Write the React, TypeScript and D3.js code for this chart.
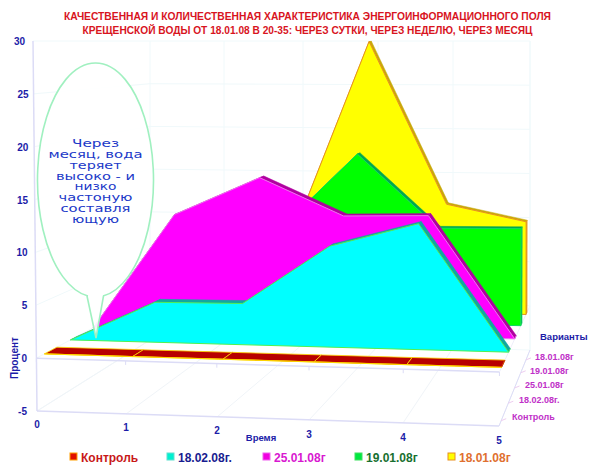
import React from "react";
import * as d3 from "d3";

const W = 600;
const H = 471;

const titleLines = [
  "КАЧЕСТВЕННАЯ И КОЛИЧЕСТВЕННАЯ ХАРАКТЕРИСТИКА ЭНЕРГОИНФОРМАЦИОННОГО ПОЛЯ",
  "КРЕЩЕНСКОЙ ВОДЫ ОТ 18.01.08 В 20-35: ЧЕРЕЗ СУТКИ, ЧЕРЕЗ НЕДЕЛЮ, ЧЕРЕЗ МЕСЯЦ",
];
const noteLines = ["Через", "месяц, вода", "теряет", "высоко - и", "низко", "частоную", "составля", "ющую"];
const noteWidths = [47, 94, 52, 79, 42, 74, 70, 47];

const timeTicks = [0, 1, 2, 3, 4, 5];
const percentTicks = [-5, 0, 5, 10, 15, 20, 25, 30];

// series, back to front
const names = ["18.01.08г", "19.01.08г", "25.01.08г", "18.02.08г.", "Контроль"];
const yellowVals = [0, 4, 8, 30, 12, 10.2];
const greenVals = [0, 5, 9.5, 18, 10.2, 10.3];
const magentaVals = [0, 12, 16, 12.2, 12.4, 0];
const cyanVals = [0, 4, 4.1, 10, 12.4, 0];
const controlVals = [0, 0, 0, 0, 0, 0];
const seriesVals = [yellowVals, greenVals, magentaVals, cyanVals, controlVals];
const depths = [0.87, 0.7, 0.5, 0.3, 0.07];
const ribbon = [0.035, 0.04, 0.05, 0.055, 0.11];
const faceColors = ["#ffff00", "#00ff00", "#ff00ff", "#00ffff", "#b80000"];
const edgeColors = ["#e89020", "#10d860", "#f070f0", "#50f050", "#ffd800"];
const sideColors = ["#c8a808", "#00a850", "#b000a0", "#10a8a0", "#b80000"];

const legendNames = ["Контроль", "18.02.08г.", "25.01.08г", "19.01.08г", "18.01.08г"];
const legendBoxes = ["#e01000", "#00f0d0", "#f000e0", "#00e840", "#ffff00"];
const legendBorders = ["#ffa000", "#60e0d0", "#f060f0", "#40e060", "#e89020"];
const legendText = ["#c81818", "#181c90", "#d818d0", "#187030", "#e07030"];
const legendX = [70, 167, 263, 355, 448];

// calibration of the 3D box: front and back faces of the chart
const frontX = d3.scaleLinear().domain(timeTicks).range([37, 126, 217, 309, 403, 499]);
const backX = d3.scaleLinear().domain(timeTicks).range([150, 224, 303, 378, 453, 530]);
const frontLow = d3.scaleLinear().domain([0, 5]).range([411, 426]);
const frontHigh = d3.scaleLinear().domain([0, 5]).range([41, 48]);
const backLow = d3.scaleLinear().domain([0, 5]).range([340, 350]);
const backHigh = d3.scaleLinear().domain([0, 5]).range([41, 41]);
const vScale = d3.scaleLinear().domain([-5, 30]).range([0, 1]);

type Pt = [number, number];
const project = (t: number, v: number, z: number): Pt => {
  const k = vScale(v);
  const fy = frontLow(t) + (frontHigh(t) - frontLow(t)) * k;
  const by = backLow(t) + (backHigh(t) - backLow(t)) * k;
  // the verticals lean slightly on the front face
  const fx = frontX(t) - 4 * k * (1 - t / 5) + 3 * k * (t / 5);
  return [fx + (backX(t) - fx) * z, fy + (by - fy) * z];
};

const poly = d3.line<Pt>().x((d) => d[0]).y((d) => d[1]);
const closed = (pts: Pt[]) => poly(pts) + "Z";

const Seg = ({ a, b, color = "#e4e4f8", w = 1 }: { a: Pt; b: Pt; color?: string; w?: number }) => (
  <line x1={a[0]} y1={a[1]} x2={b[0]} y2={b[1]} stroke={color} strokeWidth={w} />
);

const Series = ({ i }: { i: number }) => {
  const vals = seriesVals[i];
  const z0 = depths[i];
  const z1 = z0 + ribbon[i];
  const tops = vals.map((v, t) => project(t, v, z0));
  const face: Pt[] = [project(0, 0, z0), ...tops, project(5, 0, z0)];
  // the control series lies flat, so its ribbon carries the outline
  const flat = i === 4;
  return (
    <g>
      {vals.slice(1).map((v, k) => (
        <path
          key={k}
          d={closed([project(k, vals[k], z0), project(k + 1, v, z0), project(k + 1, v, z1), project(k, vals[k], z1)])}
          fill={sideColors[i]}
          stroke={flat ? edgeColors[i] : sideColors[i]}
          strokeWidth={flat ? 0.8 : 0.5}
        />
      ))}
      <path
        d={closed([project(5, vals[5], z0), project(5, vals[5], z1), project(5, 0, z1), project(5, 0, z0)])}
        fill={sideColors[i]}
        stroke={flat ? sideColors[i] : edgeColors[i]}
        strokeWidth={0.5}
      />
      <path d={closed(face)} fill={faceColors[i]} stroke={edgeColors[i]} strokeWidth={flat ? 0.8 : 1} strokeLinejoin="round" />
    </g>
  );
};

export default function App() {
  const wallGrid = "#f0f9fb";
  const axisLine = "#dcdcf6";
  const cx = 95.5;
  const cy = 180;
  const rx = 58;
  const ry = 117;
  const tailY = 296;
  const tailDx = rx * Math.sqrt(1 - ((tailY - cy) / ry) ** 2);
  const callout = `M${cx - tailDx},${tailY} A${rx},${ry} 0 1 1 ${cx + tailDx},${tailY} L${cx + 8},${tailY} L${cx + 0.5},338 L${cx - 8.5},${tailY} Z`;

  return (
    <svg
      width={W}
      height={H}
      viewBox={`0 0 ${W} ${H}`}
      style={{ position: "absolute", left: 0, top: 0, background: "#fff" }}
      fontFamily="'Liberation Sans', Arial, sans-serif"
    >
      {titleLines.map((s, i) => (
        <text key={s} x={307.5} y={20 + i * 14} textAnchor="middle" fontSize={10.5} fontWeight="bold" fill="#d8141e"
          textLength={i === 0 ? 487 : 450} lengthAdjust="spacingAndGlyphs">
          {s}
        </text>
      ))}

      {/* back wall and left wall */}
      {timeTicks.map((t) => (
        <Seg key={t} a={project(t, 30, 1)} b={project(t, -5, 1)} color={wallGrid} />
      ))}
      {percentTicks.map((v) => (
        <g key={v}>
          <Seg a={project(0, v, 1)} b={project(5, v, 1)} color={wallGrid} />
          <Seg a={project(0, v, 0)} b={project(0, v, 1)} color={wallGrid} />
        </g>
      ))}
      {/* floor */}
      {timeTicks.map((t) => (
        <Seg key={t} a={project(t, -5, 0)} b={project(t, -5, 1)} color="#f0f4f8" />
      ))}
      <Seg a={project(0, 30, 0)} b={project(0, -5, 0)} color={axisLine} w={1.5} />
      <Seg a={project(0, -5, 0)} b={project(5, -5, 0)} color={axisLine} w={1.5} />
      <Seg a={project(0, 0, 0)} b={project(5, 0, 0)} color={axisLine} w={1.5} />
      <Seg a={project(5, -5, 0)} b={project(5, -5, 1)} color={axisLine} />
      <Seg a={project(5, 0, 0)} b={project(5, 0, 1)} color="#eeeefa" />
      <Seg a={project(5, -5, 1)} b={project(5, 30, 1)} color={wallGrid} />
      {timeTicks.map((t) => {
        const p = project(t, 0, 0);
        return <Seg key={t} a={p} b={[p[0], p[1] + 4]} color={axisLine} />;
      })}
      {depths.map((z, i) => {
        const p = project(5, -5, z);
        return <Seg key={i} a={p} b={[p[0] + 5, p[1] - 2]} color="#eecdf0" />;
      })}

      {seriesVals.map((_, i) => (
        <Series key={names[i]} i={i} />
      ))}

      <path d={callout} fill="#fff" fillOpacity={0.9} stroke="#a0f0c0" strokeWidth={1.6} />
      {noteLines.map((s, i) => (
        <text key={s} x={95.5} y={147 + i * 10.85} textAnchor="middle" fontSize={10} fontFamily="'DejaVu Sans', sans-serif"
          fill="#2038c8" textLength={noteWidths[i]} lengthAdjust="spacingAndGlyphs">
          {s}
        </text>
      ))}

      {percentTicks.map((v) => (
        <text key={v} x={v === 30 ? 25 : 29 - (30 - Math.max(v, 0)) / 15} y={project(0, v, 0)[1] + 4} textAnchor="end" fontSize={10} fontWeight="bold" fill="#1c1ca8">
          {v}
        </text>
      ))}
      {timeTicks.map((t) => (
        <text key={t} x={frontX(t)} y={428 + t * 3.2} textAnchor="middle" fontSize={10} fontWeight="bold" fill="#1c1ca8">
          {t}
        </text>
      ))}
      <text x={261} y={441} textAnchor="middle" fontSize={9.5} fontWeight="bold" fill="#1c1ca8">Время</text>
      <text transform="translate(18,358) rotate(-90)" textAnchor="middle" fontSize={10} fontWeight="bold" fill="#1c1ca8">Процент</text>
      <text x={540} y={340} fontSize={9.5} fontWeight="bold" fill="#1c1ca8">Варианты</text>
      {names.map((s, i) => (
        <text key={s} x={[535, 530, 525, 519, 512][i]} y={[360, 374, 388, 403, 420][i]} fontSize={9} fontWeight="bold" fill="#c030c8">
          {s}
        </text>
      ))}

      {legendNames.map((s, i) => (
        <g key={s}>
          <rect x={legendX[i]} y={453} width={7} height={7} fill={legendBoxes[i]} stroke={legendBorders[i]} strokeWidth={1} />
          <text x={legendX[i] + 11} y={462} fontSize={12} fontWeight="bold" fill={legendText[i]}>
            {s}
          </text>
        </g>
      ))}
    </svg>
  );
}
